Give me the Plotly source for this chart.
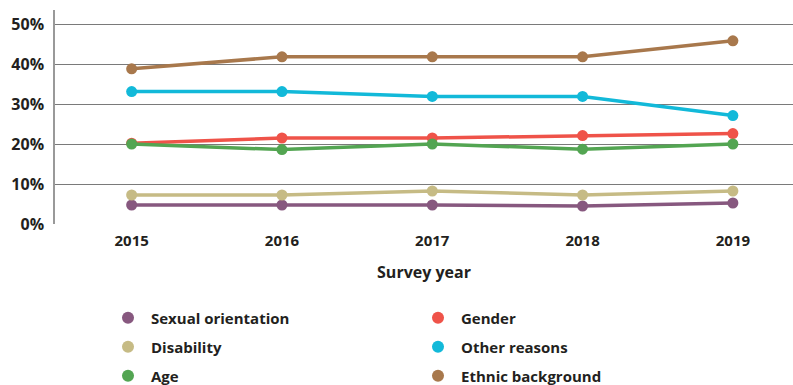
import plotly.graph_objects as go

years = [2015, 2016, 2017, 2018, 2019]
sexual_orientation = [4.75, 4.75, 4.75, 4.5, 5.25]
disability = [7.25, 7.25, 8.25, 7.25, 8.25]
age = [20.0, 18.6, 20.0, 18.7, 20.0]
gender = [20.2, 21.5, 21.5, 22.1, 22.6]
other_reasons = [33.1, 33.1, 31.9, 31.9, 27.1]
ethnic_background = [38.8, 41.8, 41.8, 41.8, 45.8]
y_ticks = [0, 10, 20, 30, 40, 50]
y_tick_labels = ["0%", "10%", "20%", "30%", "40%", "50%"]

series = [
    ("Sexual orientation", sexual_orientation, "#87587F"),
    ("Gender", gender, "#EF5349"),
    ("Disability", disability, "#C6BB85"),
    ("Other reasons", other_reasons, "#12B9D9"),
    ("Age", age, "#53A552"),
    ("Ethnic background", ethnic_background, "#A8784C"),
]

FONT = "Open Sans"
TXT = "#231F20"

fig = go.Figure()
for name, vals, col in series:
    fig.add_trace(go.Scatter(
        x=years, y=vals, mode="lines+markers", name=name,
        line=dict(color=col, width=3.5),
        marker=dict(color=col, size=11),
        showlegend=False, hoverinfo="skip",
    ))

W, H, L, T, B = 793, 385, 55, 10, 161
legend_pos = {
    "Sexual orientation": (105, 318),
    "Disability": (105, 347),
    "Age": (105, 376),
    "Gender": (415, 318),
    "Other reasons": (415, 347),
    "Ethnic background": (415, 376),
}
layout_legends = {}
for i, (name, vals, col) in enumerate(series):
    key = "legend" if i == 0 else f"legend{i+1}"
    fig.add_trace(go.Scatter(
        x=[None], y=[None], mode="markers", name=name,
        marker=dict(color=col, size=12), legend=key, showlegend=True,
    ))
    px, py = legend_pos[name]
    layout_legends[key] = dict(
        xref="container", yref="container",
        x=px / W, y=1 - py / H,
        xanchor="left", yanchor="middle",
        itemwidth=36,
        font=dict(family=FONT, size=15, color=TXT, weight="bold"),
        bgcolor="rgba(0,0,0,0)",
    )

fig.update_layout(
    width=W, height=H,
    margin=dict(l=L, r=0, t=T, b=B, autoexpand=False),
    paper_bgcolor="white", plot_bgcolor="white",
    **layout_legends,
)
fig.update_xaxes(
    range=[2014.49, 2019.4], tickvals=years, ticktext=[str(y) for y in years],
    showgrid=False, zeroline=False, showline=False, ticks="",
    automargin=False, ticklabelstandoff=6,
    tickfont=dict(family=FONT, size=15, color=TXT, weight="bold"),
    title=dict(text="Survey year", font=dict(family=FONT, size=16, color=TXT, weight="bold"), standoff=17),
)
fig.update_yaxes(
    range=[0, 53.5], tickvals=y_ticks, ticktext=y_tick_labels,
    showgrid=True, gridcolor="#7a7a7a", gridwidth=1.2, zeroline=False,
    showline=True, linecolor="#999999", linewidth=1.5, ticks="",
    automargin=False, ticklabelstandoff=6,
    tickfont=dict(family=FONT, size=16, color=TXT, weight="bold"),
)

fig.write_html("out.html")
